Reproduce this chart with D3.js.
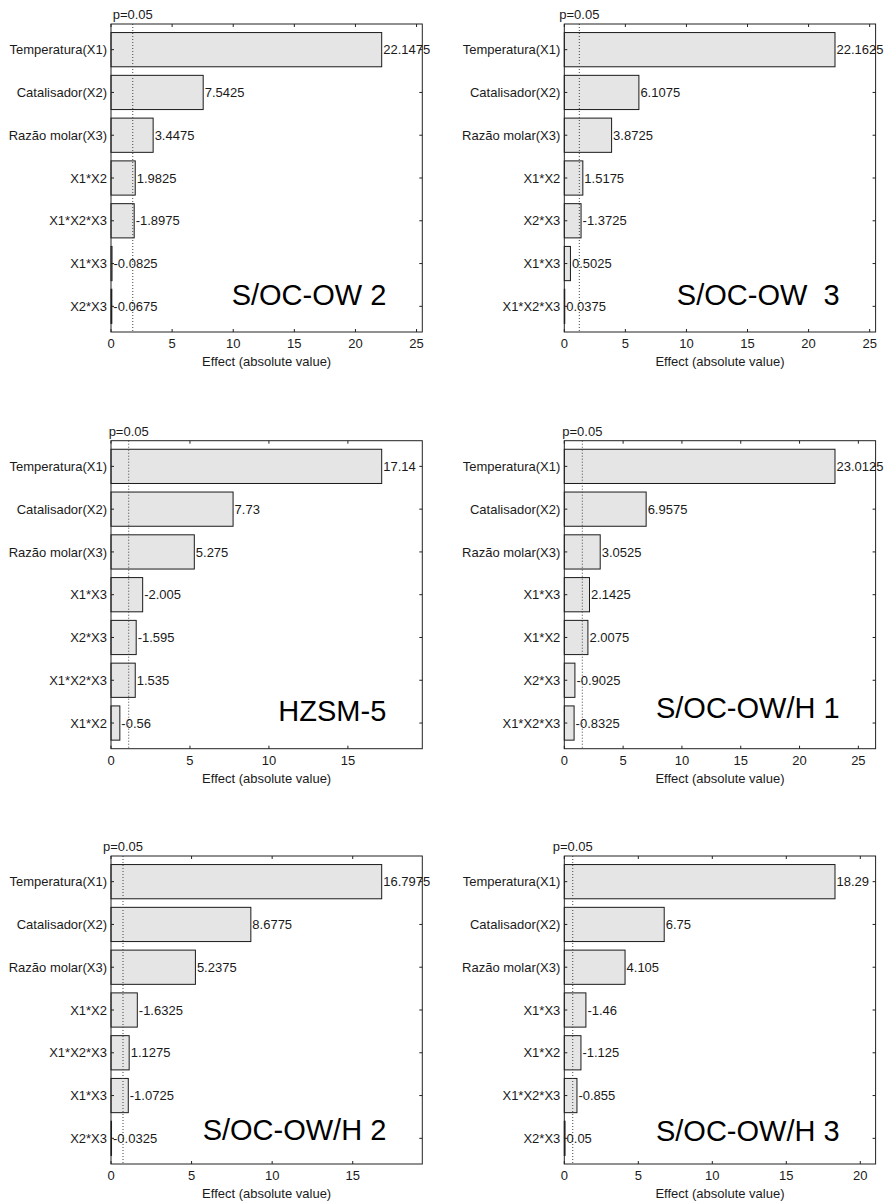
<!DOCTYPE html>
<html>
<head>
<meta charset="utf-8">
<script src="https://cdn.jsdelivr.net/npm/d3@7"></script>
<style>
  html, body { margin: 0; padding: 0; background: #fff; }
  svg { display: block; }
  text { font-family: "Liberation Sans", Arial, Helvetica, sans-serif; fill: #1a1a1a; }
</style>
</head>
<body>
<svg id="chart" width="887" height="1203"></svg>
<script>
// Pareto charts of effects (absolute value) for six catalysts.
const panelTitles = ["S/OC-OW 2", "S/OC-OW  3", "HZSM-5", "S/OC-OW/H 1", "S/OC-OW/H 2", "S/OC-OW/H 3"];

const terms1 = ["Temperatura(X1)", "Catalisador(X2)", "Razão molar(X3)", "X1*X2", "X1*X2*X3", "X1*X3", "X2*X3"];
const effects1 = [22.1475, 7.5425, 3.4475, 1.9825, -1.8975, -0.0825, -0.0675];

const terms2 = ["Temperatura(X1)", "Catalisador(X2)", "Razão molar(X3)", "X1*X2", "X2*X3", "X1*X3", "X1*X2*X3"];
const effects2 = [22.1625, 6.1075, 3.8725, 1.5175, -1.3725, 0.5025, 0.0375];

const terms3 = ["Temperatura(X1)", "Catalisador(X2)", "Razão molar(X3)", "X1*X3", "X2*X3", "X1*X2*X3", "X1*X2"];
const effects3 = [17.14, 7.73, 5.275, -2.005, -1.595, 1.535, -0.56];

const terms4 = ["Temperatura(X1)", "Catalisador(X2)", "Razão molar(X3)", "X1*X3", "X1*X2", "X2*X3", "X1*X2*X3"];
const effects4 = [23.0125, 6.9575, 3.0525, 2.1425, 2.0075, -0.9025, -0.8325];

const terms5 = ["Temperatura(X1)", "Catalisador(X2)", "Razão molar(X3)", "X1*X2", "X1*X2*X3", "X1*X3", "X2*X3"];
const effects5 = [16.7975, 8.6775, 5.2375, -1.6325, 1.1275, -1.0725, -0.0325];

const terms6 = ["Temperatura(X1)", "Catalisador(X2)", "Razão molar(X3)", "X1*X3", "X1*X2", "X1*X2*X3", "X2*X3"];
const effects6 = [18.29, 6.75, 4.105, -1.46, -1.125, -0.855, 0.05];

// Significance threshold (p = 0.05) for each panel, in effect units
const pThresholds = [1.78, 1.23, 1.12, 1.53, 0.745, 0.57];

const tickStep = 5;
const pLabel = "p=0.05";
const xAxisTitle = "Effect (absolute value)";

const termSets = [terms1, terms2, terms3, terms4, terms5, terms6];
const effectSets = [effects1, effects2, effects3, effects4, effects5, effects6];

// Frame placement of each panel
const frameW = 311.3, frameH = 308;
const frameLefts = [111, 564.3];
const frameTops = [24, 440.7, 856];
const titleBaselines = [280.5, 281, 280, 277.5, 284, 285];
const fontPx = "13px";

const svg = d3.select("#chart");

panelTitles.forEach((title, k) => {
  const terms = termSets[k];
  const effects = effectSets[k];
  const left = frameLefts[k % 2];
  const top = frameTops[Math.floor(k / 2)];

  const maxAbs = d3.max(effects, d => Math.abs(d));
  const x = d3.scaleLinear().domain([0, maxAbs * 1.15]).range([0, frameW]);
  const y = d3.scaleLinear().domain([0.4, terms.length + 0.6]).range([0, frameH]);
  const unit = y(2) - y(1);
  const barH = 0.8 * unit;

  const g = svg.append("g").attr("transform", `translate(${left},${top})`);

  const ticks = d3.range(0, x.domain()[1] + 1e-9, tickStep);

  // Bars
  g.selectAll("rect.bar")
    .data(effects)
    .join("rect")
    .attr("class", "bar")
    .attr("x", x(0))
    .attr("y", (d, i) => y(i + 1) - barH / 2)
    .attr("width", d => Math.max(x(Math.abs(d)) - x(0), 0.01))
    .attr("height", barH)
    .attr("fill", "#e5e5e5")
    .attr("stroke", "#1a1a1a")
    .attr("stroke-width", 1);

  // Threshold line
  g.append("line")
    .attr("x1", x(pThresholds[k])).attr("x2", x(pThresholds[k]))
    .attr("y1", 0).attr("y2", frameH)
    .attr("stroke", "#444")
    .attr("stroke-width", 1)
    .attr("stroke-dasharray", "1,2");

  // Frame
  g.append("rect")
    .attr("x", 0).attr("y", 0)
    .attr("width", frameW).attr("height", frameH)
    .attr("fill", "none")
    .attr("stroke", "#222")
    .attr("stroke-width", 1);

  // Inward ticks on all four sides
  const tl = 3;
  const tickG = g.append("g").attr("stroke", "#222").attr("stroke-width", 1);
  ticks.forEach(t => {
    tickG.append("line").attr("x1", x(t)).attr("x2", x(t)).attr("y1", frameH).attr("y2", frameH - tl);
    tickG.append("line").attr("x1", x(t)).attr("x2", x(t)).attr("y1", 0).attr("y2", tl);
  });
  terms.forEach((t, i) => {
    tickG.append("line").attr("x1", frameW).attr("x2", frameW - tl).attr("y1", y(i + 1)).attr("y2", y(i + 1));
    tickG.append("line").attr("x1", 0).attr("x2", tl).attr("y1", y(i + 1)).attr("y2", y(i + 1));
  });

  // X tick labels
  g.selectAll("text.xt")
    .data(ticks)
    .join("text")
    .attr("class", "xt")
    .attr("x", d => x(d))
    .attr("y", frameH + 16)
    .attr("text-anchor", "middle")
    .style("font-size", fontPx)
    .text(d => d);

  // Axis title
  g.append("text")
    .attr("x", frameW / 2)
    .attr("y", frameH + 34)
    .attr("text-anchor", "middle")
    .style("font-size", fontPx)
    .text(xAxisTitle);

  // Category labels
  g.selectAll("text.cat")
    .data(terms)
    .join("text")
    .attr("class", "cat")
    .attr("x", -4)
    .attr("y", (d, i) => y(i + 1))
    .attr("dy", "0.36em")
    .attr("text-anchor", "end")
    .style("font-size", fontPx)
    .text(d => d);

  // Effect value labels
  g.selectAll("text.val")
    .data(effects)
    .join("text")
    .attr("class", "val")
    .attr("x", d => x(Math.abs(d)) + 1.5)
    .attr("y", (d, i) => y(i + 1))
    .attr("dy", "0.36em")
    .attr("text-anchor", "start")
    .style("font-size", fontPx)
    .text(d => String(d));

  // Threshold label
  g.append("text")
    .attr("x", x(pThresholds[k]))
    .attr("y", -5)
    .attr("text-anchor", "middle")
    .style("font-size", fontPx)
    .text(pLabel);

  // Panel title
  g.append("text")
    .attr("x", frameW - 36)
    .attr("y", titleBaselines[k])
    .attr("text-anchor", "end")
    .style("font-size", "29px")
    .style("white-space", "pre")
    .attr("xml:space", "preserve")
    .style("fill", "#000")
    .text(title);
});
</script>
</body>
</html>
